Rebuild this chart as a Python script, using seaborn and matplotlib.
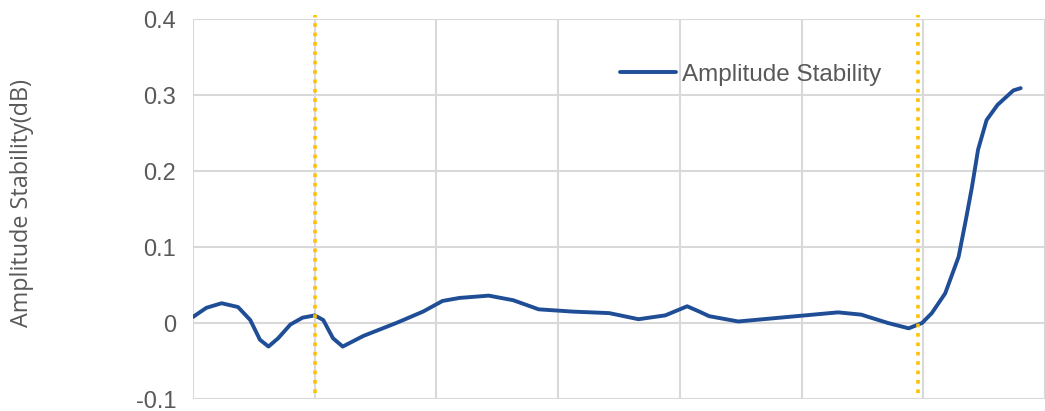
import matplotlib
matplotlib.use("Agg")
import matplotlib.pyplot as plt
import seaborn as sns
import pandas as pd

# data (x in grid units, y in dB)
x_pos = [0.00, 0.11, 0.235, 0.37, 0.47, 0.55, 0.62, 0.70, 0.80, 0.90,
         1.00, 1.07, 1.15, 1.23, 1.40, 1.67, 1.89, 2.05, 2.19, 2.43,
         2.63, 2.84, 3.12, 3.42, 3.66, 3.88, 4.06, 4.16, 4.24, 4.48,
         4.89, 5.30, 5.49, 5.71, 5.88, 5.99, 6.07, 6.18, 6.29, 6.35,
         6.40, 6.45, 6.52, 6.61, 6.74, 6.80]
amplitude = [0.008, 0.020, 0.026, 0.021, 0.004, -0.022, -0.031, -0.020, -0.002, 0.007,
             0.010, 0.004, -0.020, -0.031, -0.017, 0.000, 0.015, 0.029, 0.033, 0.036,
             0.030, 0.018, 0.015, 0.013, 0.005, 0.010, 0.022, 0.015, 0.009, 0.002,
             0.008, 0.014, 0.011, 0.000, -0.007, 0.000, 0.013, 0.039, 0.087, 0.136,
             0.179, 0.228, 0.267, 0.287, 0.306, 0.309]
marker_x = [1.0, 5.96]
y_ticks = [-0.1, 0.0, 0.1, 0.2, 0.3, 0.4]
y_tick_labels = ["-0.1", "0", "0.1", "0.2", "0.3", "0.4"]
series_name = "Amplitude Stability"
y_label = "Amplitude Stability(dB)"

df = pd.DataFrame({"x": x_pos, "y": amplitude, "series": series_name})

sns.set_style("whitegrid")
plt.rcParams["font.family"] = ["Liberation Sans", "DejaVu Sans"]

fig = plt.figure(figsize=(10.45, 4.11), dpi=100)
ax = fig.add_axes([193 / 1045, 12 / 411, 852 / 1045, 380 / 411])

sns.lineplot(data=df, x="x", y="y", hue="series", palette=["#1F4E96"],
             linewidth=2.8, ax=ax, sort=False, estimator=None)
for ln in ax.get_lines():
    ln.set_solid_joinstyle("round")
    ln.set_solid_capstyle("round")

for mx in marker_x:
    ax.plot([mx, mx], [-0.092, 0.405], color="#FFC000", linewidth=2.6,
            linestyle=(0, (1.0, 1.6)), clip_on=False, zorder=3)

ax.set_xlim(0, 852 / 122)
ax.set_ylim(-0.1, 0.4)
ax.set_xticks([0, 1, 2, 3, 4, 5, 6, 7])
ax.set_xticklabels([])
ax.set_yticks(y_ticks)
ax.set_yticklabels(y_tick_labels)
ax.tick_params(axis="both", length=0)
ax.tick_params(axis="y", pad=12, labelsize=17, labelcolor="#595959")
ax.grid(True, color="#D9D9D9", linewidth=1.5)
for s in ax.spines.values():
    s.set_visible(False)
ax.set_xlabel("")
ax.set_ylabel("")
fig.text(22 / 1045, (411 - 203) / 411, y_label, rotation=90, ha="center", va="center",
         fontsize=16.8, color="#595959", family=["Open Sans", "DejaVu Sans"])

leg = ax.legend(loc="center left", bbox_to_anchor=(620 / 1045, (411 - 75) / 411),
                bbox_transform=fig.transFigure, frameon=False, fontsize=17.5,
                handlelength=2.3, handletextpad=0.25, borderpad=0, borderaxespad=0)
for t in leg.get_texts():
    t.set_color("#595959")
for h in leg.get_lines():
    h.set_linewidth(2.8)

fig.savefig("out.png", dpi=100)
